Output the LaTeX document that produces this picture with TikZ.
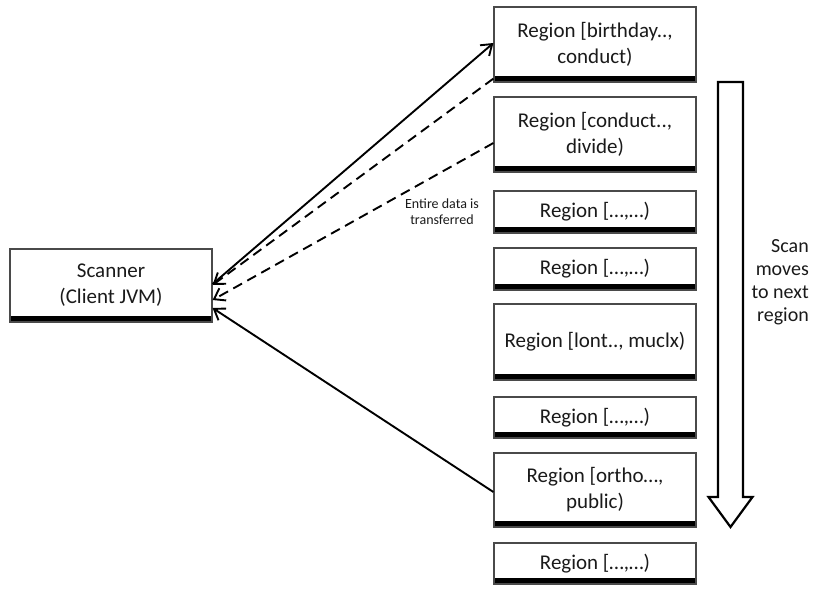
\documentclass[tikz,border=0pt]{standalone}
\usepackage{fontspec}
\setmainfont{Carlito}
\usetikzlibrary{arrows.meta}
\definecolor{ink}{HTML}{1A1A1A}
\definecolor{edge}{HTML}{4A4A4A}
\begin{document}
\begin{tikzpicture}[x=1pt,y=-1pt,
  box/.style={draw=edge, line width=1.2pt, fill=white, inner sep=0pt,
    minimum width=202pt, align=center, text=ink,
    font=\fontsize{21}{26}\selectfont,
    path picture={\fill[black] (path picture bounding box.south west)
      rectangle ([yshift=6pt]path picture bounding box.south east);}},
  link/.style={line width=1.9pt, draw=black,
    -{Straight Barb[length=10pt,width=14pt,line width=1.9pt]}},
  dashlink/.style={link, dash pattern=on 10pt off 6pt},
]
\useasboundingbox (0,0) rectangle (813,590);

% client side
\node[box, minimum height=73pt] (scanner) at (111,285.5) {Scanner\\(Client JVM)};

% regions, top to bottom
\node[box, minimum height=75pt] (r1) at (595,44.5)  {Region [birthday..,\\conduct)};
\node[box, minimum height=75pt] (r2) at (595,134.5) {Region [conduct..,\\divide)};
\node[box, minimum height=42pt] (r3) at (595,212)   {Region […,…)};
\node[box, minimum height=42pt] (r4) at (595,269)   {Region […,…)};
\node[box, minimum height=76pt] (r5) at (595,342)   {Region [lont.., muclx)};
\node[box, minimum height=41pt] (r6) at (595,417.5) {Region […,…)};
\node[box, minimum height=74pt] (r7) at (595,490)   {Region [ortho…,\\public)};
\node[box, minimum height=41pt] (r8) at (595,563.5) {Region […,…)};

% requests and transfers
\draw[link] ([yshift=1.5pt]scanner.east) -- ([yshift=1.5pt]r1.west);
\draw[dashlink] ([yshift=4pt]r1.south west) -- ([yshift=0.5pt]scanner.east);
\draw[dashlink] ([yshift=-8.5pt]r2.west) -- ([yshift=-14.5pt]scanner.east);
\draw[link] ([yshift=-2pt]r7.west) -- ([yshift=-22.5pt]scanner.east);

\node[font=\fontsize{14}{16}\selectfont, align=center, text=ink, inner sep=0pt]
  (note) at (442,212) {Entire data is\\transferred};

% scan direction
\draw[line width=2.2pt, fill=white, line join=miter]
  (718,82) -- (743,82) -- (743,497) -- (752.5,497) -- (730.5,527)
  -- (708.5,497) -- (718,497) -- cycle;
\node[align=right, anchor=east, inner sep=0pt, text=ink,
  font=\fontsize{20}{23}\selectfont] (scantext) at (809,282)
  {Scan\\moves\\to next\\region};
\end{tikzpicture}
\end{document}
